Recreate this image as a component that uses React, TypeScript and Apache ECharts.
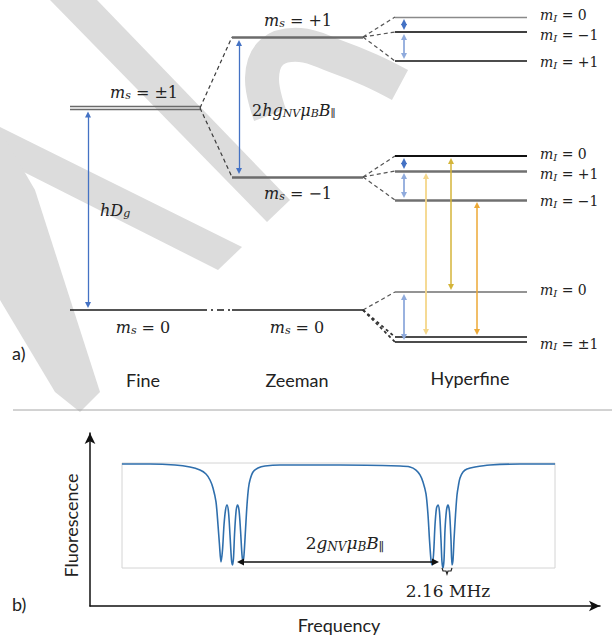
import React, { useEffect, useRef } from 'react';
import * as echarts from 'echarts';

// ---------------- DATA ----------------
// Energy levels, arbitrary energy units (ground state m_s = 0 at 0)
const stageNames = ['Fine', 'Zeeman', 'Hyperfine'];
const fineLevels = [0, 202]; // m_s = 0, m_s = ±1
const fineLabels = ['0', '±1'];
const zeemanLevels = [0, 273, 133]; // m_s = 0, +1, −1
const zeemanLabels = ['0', '+1', '−1'];
const hfUpperLevels = [293, 278, 249]; // m_s=+1 → m_I = 0, −1, +1
const hfUpperLabels = ['0', '−1', '+1'];
const hfMiddleLevels = [154, 139, 110]; // m_s=−1 → m_I = 0, +1, −1
const hfMiddleLabels = ['0', '+1', '−1'];
const hfLowerLevels = [18, -29.5]; // m_s=0 → m_I = 0, ±1
const hfLowerLabels = ['0', '±1'];

// ODMR spectrum (frequency in MHz, fluorescence normalised)
const freqMHz = [0, 5.6, 10.6, 13.6, 15.6, 16.8, 17.6, 18.2, 18.8, 19.2, 19.5, 19.8, 20.1, 20.4, 20.7, 21.0, 21.3, 21.6, 21.9, 22.1, 22.3, 22.5, 22.8, 23.1, 23.4, 23.7, 24.0, 24.2, 24.4, 24.7, 25.0, 25.3, 25.6, 26.2, 27.2, 28.6, 31.6, 43.6, 55.6, 57.6, 58.8, 59.6, 60.2, 60.8, 61.2, 61.5, 61.8, 62.0, 62.3, 62.6, 62.9, 63.2, 63.5, 63.8, 64.0, 64.2, 64.4, 64.6, 64.9, 65.2, 65.5, 65.8, 66.0, 66.2, 66.4, 66.7, 67.0, 67.3, 67.6, 68.2, 69.0, 70.6, 73.6, 79.6, 86.6];
const fluorescence = [0.99, 0.99, 0.981, 0.962, 0.933, 0.895, 0.838, 0.762, 0.629, 0.41, 0.219, 0.057, 0.171, 0.41, 0.552, 0.6, 0.533, 0.314, 0.076, 0.029, 0.095, 0.314, 0.533, 0.6, 0.552, 0.362, 0.124, 0.057, 0.124, 0.362, 0.6, 0.762, 0.838, 0.914, 0.952, 0.971, 0.981, 0.981, 0.971, 0.962, 0.933, 0.886, 0.819, 0.705, 0.505, 0.267, 0.076, 0.029, 0.124, 0.41, 0.571, 0.6, 0.533, 0.267, 0.057, 0.0, 0.076, 0.362, 0.552, 0.6, 0.533, 0.267, 0.029, 0.076, 0.267, 0.505, 0.695, 0.79, 0.857, 0.914, 0.943, 0.962, 0.981, 0.99, 0.99];
const zeemanArrowMHz = [23.7, 62.7]; // 2 g μB B∥ arrow ends
const zeemanArrowLevel = 0.057;
const splittingLabel = '2.16 MHz';

// ---------------- LAYOUT ----------------
const W = 612;
const H = 635;
const A_H = 400;
const E_MAX = 310;
const E_MIN = -90;
const py = (E: number) => ((E_MAX - E) * A_H) / (E_MAX - E_MIN);
const FINE_X = [70, 200];
const ZEE_X = [232, 363];
const HF_X = [395, 527];
const LABEL_X = 540;
const HF_UPPER_DY = [-2, 3, 1];
const HF_MIDDLE_DY = [-2, 3, 1];
const HF_LOWER_DY = [-2, 4];
const BLUE = '#4472C4';
const BLUE_L = '#8FAADC';
const WM = '#dcdcdc';

const mathRich = (size = 16) => ({
  v: { fontFamily: 'DejaVu Serif', fontStyle: 'italic', fontSize: size, fill: '#222222' },
  n: { fontFamily: 'DejaVu Serif', fontSize: size, fill: '#222222' },
  s: { fontFamily: 'DejaVu Serif', fontStyle: 'italic', fontSize: Math.round(size * 0.68), fill: '#222222', padding: [Math.round(size * 0.45), 0, 0, 0] },
});

const mathText = (x: number, y: number, text: string, align = 'center', size = 16) => ({
  type: 'text',
  x,
  y,
  z: 10,
  style: { text, rich: mathRich(size), align, verticalAlign: 'middle' },
});

const sansText = (x: number, y: number, text: string, align = 'center') => ({
  type: 'text',
  x,
  y,
  z: 10,
  style: { text, font: '18px Lato', fill: '#222222', align, verticalAlign: 'middle' },
});

const ms = (v: string) => `{v|m}{s|s}{n| = ${v}}`;
const mI = (v: string) => `{v|m}{s|I}{n| = ${v}}`;

const lvl = (xs: number[], E: number, color: string, width: number) => ({
  coords: [[xs[0], E], [xs[1], E]],
  lineStyle: { color, width, opacity: 1 },
});
const conn = (x1: number, E1: number, x2: number, E2: number, color = '#3a3a3a', width = 1.2, type: any = [4, 3]) => ({
  coords: [[x1, E1], [x2, E2]],
  lineStyle: { color, width, type, opacity: 1 },
});
const arrow = (x: number, Elow: number, Ehigh: number, color: string, width = 1.3, gap = 5) => ({
  coords: [[x, Elow + gap], [x, Ehigh - gap]],
  lineStyle: { color, width, opacity: 1 },
});

export default function App() {
  const ref = useRef<HTMLDivElement>(null);
  useEffect(() => {
    if (!ref.current) return;
    const chart = echarts.init(ref.current, undefined, { renderer: 'svg' });

    const levelData: any[] = [
      lvl(FINE_X, fineLevels[0], '#1a1a1a', 1.6),
      lvl(FINE_X, fineLevels[1] + 1.5, '#6a6a6a', 1.3),
      lvl(FINE_X, fineLevels[1] - 1.5, '#6a6a6a', 1.3),
      lvl(ZEE_X, zeemanLevels[0], '#1a1a1a', 1.6),
      lvl(ZEE_X, zeemanLevels[1], '#6b6b6b', 2.6),
      lvl(ZEE_X, zeemanLevels[2], '#6b6b6b', 2.6),
      lvl(HF_X, hfUpperLevels[0], '#8a8a8a', 1.4),
      lvl(HF_X, hfUpperLevels[1], '#404040', 2.2),
      lvl(HF_X, hfUpperLevels[2], '#111111', 1.6),
      lvl(HF_X, hfMiddleLevels[0], '#111111', 1.8),
      lvl(HF_X, hfMiddleLevels[1], '#707070', 2.6),
      lvl(HF_X, hfMiddleLevels[2], '#707070', 2.6),
      lvl(HF_X, hfLowerLevels[0], '#707070', 1.5),
      lvl(HF_X, hfLowerLevels[1] + 2.5, '#111111', 1.5),
      lvl(HF_X, hfLowerLevels[1] - 2.5, '#111111', 1.5),
    ];

    const connData: any[] = [
      conn(FINE_X[1], fineLevels[1], ZEE_X[0], zeemanLevels[1]),
      conn(FINE_X[1], fineLevels[1], ZEE_X[0], zeemanLevels[2]),
      conn(FINE_X[1], fineLevels[0], ZEE_X[0], zeemanLevels[0], '#1a1a1a', 1.5, [7, 4, 2, 4]),
      ...hfUpperLevels.map((E) => conn(ZEE_X[1], zeemanLevels[1], HF_X[0], E, '#555555')),
      ...hfMiddleLevels.map((E) => conn(ZEE_X[1], zeemanLevels[2], HF_X[0], E, '#555555')),
      conn(ZEE_X[1], zeemanLevels[0], HF_X[0], hfLowerLevels[0], '#555555'),
      conn(ZEE_X[1], zeemanLevels[0], HF_X[0], hfLowerLevels[1] + 2.5, '#333', 1.8, [3, 3]),
      conn(ZEE_X[1], zeemanLevels[0], HF_X[0], hfLowerLevels[1] - 2.5, '#333', 1.8, [3, 3]),
    ];

    const arrowData: any[] = [
      arrow(88, fineLevels[0], fineLevels[1] - 1.5, BLUE),
      arrow(239, zeemanLevels[2], zeemanLevels[1], BLUE, 1.3, 6),
      arrow(404, hfUpperLevels[1], hfUpperLevels[0], BLUE, 1.8),
      arrow(404, hfUpperLevels[2], hfUpperLevels[1], BLUE_L, 1.8),
      arrow(404, hfMiddleLevels[1], hfMiddleLevels[0], BLUE, 1.8),
      arrow(404, hfMiddleLevels[2], hfMiddleLevels[1], BLUE_L, 1.8),
      arrow(404, hfLowerLevels[1] - 2.5, hfLowerLevels[0], BLUE_L, 1.8),
      arrow(426, hfLowerLevels[1] + 2.5, hfMiddleLevels[1], '#F4D68A', 1.8),
      arrow(451, hfLowerLevels[0], hfMiddleLevels[0], '#D4B53A', 1.5),
      arrow(477, hfLowerLevels[1] + 2.5, hfMiddleLevels[2], '#EDA936', 1.5),
    ];

    const watermark: any[] = [
      { type: 'polygon', z: -5, shape: { points: [[50, 0], [97, 0], [290, 200], [267, 222]] }, style: { fill: WM } },
      { type: 'polygon', z: -5, shape: { points: [[0, 127], [242, 247], [218, 270], [0, 160]] }, style: { fill: WM } },
      { type: 'polygon', z: -5, shape: { points: [[0, 130], [35, 190], [100, 392], [80, 412], [55, 392], [0, 300]] }, style: { fill: WM } },
      { type: 'polyline', z: -5, shape: { points: [[270, 115], [262, 78], [272, 52], [300, 45], [335, 56], [370, 70], [400, 85]], smooth: 0.4 }, style: { stroke: WM, lineWidth: 34, fill: null } },
    ];

    const texts: any[] = [
      mathText(144, 92, ms(fineLabels[1])),
      mathText(143, 327, ms(fineLabels[0])),
      mathText(298, 20, ms(zeemanLabels[1])),
      mathText(298, 193, ms(zeemanLabels[2])),
      mathText(297, 327, ms(zeemanLabels[0])),
      mathText(252, 110, '{n|2}{v|hg}{s|NV}{v|μ}{s|B}{v|B}{s|∥}', 'left'),
      mathText(100, 210, '{v|hD}{s|g}', 'left'),
      ...hfUpperLevels.map((E, i) => mathText(LABEL_X, py(E) + HF_UPPER_DY[i], mI(hfUpperLabels[i]), 'left', 14)),
      ...hfMiddleLevels.map((E, i) => mathText(LABEL_X, py(E) + HF_MIDDLE_DY[i], mI(hfMiddleLabels[i]), 'left', 14)),
      ...hfLowerLevels.map((E, i) => mathText(LABEL_X, py(E) + HF_LOWER_DY[i], mI(hfLowerLabels[i]), 'left', 14)),
      sansText(143, 380, stageNames[0]),
      sansText(297, 380, stageNames[1]),
      sansText(470, 378, stageNames[2]),
      sansText(12, 353, 'a)', 'left'),
      sansText(12, 604, 'b)', 'left'),
      mathText(345, 543, '{n|2}{v|g}{s|NV}{v|μ}{s|B}{v|B}{s|∥}', 'center', 17),
      { type: 'text', x: 448, y: 591, z: 10, style: { text: splittingLabel, font: '17px "DejaVu Serif"', fill: '#222222', align: 'center', verticalAlign: 'middle' } },
      { type: 'polyline', z: 10, shape: { points: [[442, 568], [443, 571], [446, 571], [447, 574], [448, 571], [451, 571], [452, 568]] }, style: { stroke: '#222', lineWidth: 1.2, fill: null } },
      { type: 'line', z: 10, shape: { x1: 13, y1: 410, x2: 612, y2: 410 }, style: { stroke: '#a6a6a6', lineWidth: 1 } },
    ];

    const axisOff = { show: false };
    chart.setOption({
      animation: false,
      backgroundColor: '#ffffff',
      grid: [
        { left: 0, top: 0, width: W, height: A_H },
        { left: 122, top: 463, width: 433, height: 105, show: true, borderColor: '#d4d4d4', borderWidth: 1, backgroundColor: 'transparent' },
        { left: 90, top: 433, width: 510, height: 173 },
      ],
      xAxis: [
        { gridIndex: 0, type: 'value', min: 0, max: W, ...axisOff },
        { gridIndex: 1, type: 'value', min: 0, max: 86.6, ...axisOff },
        {
          gridIndex: 2, type: 'value', min: 0, max: 1,
          axisLine: { show: true, onZero: false, symbol: ['none', 'arrow'], symbolSize: [8, 11], lineStyle: { color: '#111', width: 1.5 } },
          axisTick: { show: false }, axisLabel: { show: false }, splitLine: { show: false },
          name: 'Frequency', nameLocation: 'middle', nameGap: 10,
          nameTextStyle: { fontFamily: 'Lato', fontSize: 18, color: '#222222', verticalAlign: 'top', padding: [0, 12, 0, 0] },
        },
      ],
      yAxis: [
        { gridIndex: 0, type: 'value', min: E_MIN, max: E_MAX, ...axisOff },
        { gridIndex: 1, type: 'value', min: 0, max: 1, ...axisOff },
        {
          gridIndex: 2, type: 'value', min: 0, max: 1,
          axisLine: { show: true, onZero: false, symbol: ['none', 'arrow'], symbolSize: [8, 11], lineStyle: { color: '#111', width: 1.5 } },
          axisTick: { show: false }, axisLabel: { show: false }, splitLine: { show: false },
          name: 'Fluorescence', nameLocation: 'middle', nameGap: 10,
          nameTextStyle: { fontFamily: 'Lato', fontSize: 18, color: '#222222', padding: [0, 12, 0, 0] },
        },
      ],
      series: [
        { type: 'lines', coordinateSystem: 'cartesian2d', xAxisIndex: 0, yAxisIndex: 0, symbol: 'none', lineStyle: { opacity: 1 }, data: connData, z: 3 },
        { type: 'lines', coordinateSystem: 'cartesian2d', xAxisIndex: 0, yAxisIndex: 0, symbol: 'none', lineStyle: { opacity: 1 }, data: levelData, z: 4 },
        { type: 'lines', coordinateSystem: 'cartesian2d', xAxisIndex: 0, yAxisIndex: 0, symbol: ['triangle', 'triangle'], symbolSize: 6, lineStyle: { opacity: 1 }, data: arrowData, z: 5 },
        {
          type: 'line', xAxisIndex: 1, yAxisIndex: 1, showSymbol: false, smooth: 0.3,
          data: freqMHz.map((f, i) => [f, fluorescence[i]]),
          lineStyle: { color: '#2F6FAD', width: 1.6 }, z: 4,
        },
        {
          type: 'lines', coordinateSystem: 'cartesian2d', xAxisIndex: 1, yAxisIndex: 1,
          symbol: ['triangle', 'triangle'], symbolSize: 7, lineStyle: { opacity: 1 },
          data: [{ coords: [[zeemanArrowMHz[0], zeemanArrowLevel], [zeemanArrowMHz[1], zeemanArrowLevel]], lineStyle: { color: '#111', width: 1.5, opacity: 1 } }],
          z: 5,
        },
      ],
      graphic: [...watermark, ...texts],
    });
    return () => chart.dispose();
  }, []);
  return <div ref={ref} style={{ position: 'fixed', left: 0, top: 0, width: W, height: H }} />;
}
